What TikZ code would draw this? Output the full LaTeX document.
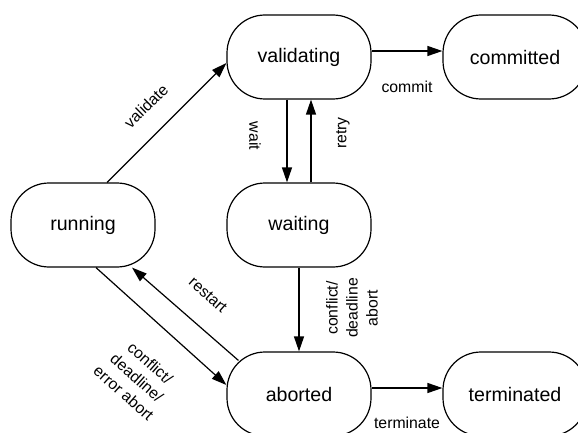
\documentclass[tikz,border=0pt]{standalone}
\usepackage{fontspec}
\setmainfont{Liberation Sans}
\usetikzlibrary{arrows.meta,calc}

\tikzset{
  state/.style={draw, line width=0.6pt, rounded corners=19pt, minimum width=72pt,
    minimum height=42pt, inner sep=0pt, font=\fontsize{9.8}{12}\selectfont},
  trans/.style={-{Triangle[length=7.5pt,width=5pt]}, line width=0.6pt},
  lbl/.style={font=\fontsize{7.9}{10}\selectfont, align=center, inner sep=0pt}
}

\begin{document}
\begin{tikzpicture}[x=0.5pt,y=-0.5pt]
	\useasboundingbox (0,0) rectangle (578,433);
	%states
	\node[state] (running) at (83,225) {running};
	\node[state] (validating) at (299,57) {validating};
	\node[state] (waiting) at (299,225) {waiting};
	\node[state] (aborted) at (299,394) {aborted};
	\node[state] (committed) at (515,57) {committed};
	\node[state] (terminated) at (515,394) {terminated};
	%transitions
	\draw[trans] ($(running.north)+(24,0)$) -- ($(validating.west)+(0,6)$);
	\draw[trans] ($(validating.south)+(-12,0)$) -- ($(waiting.north)+(-12,0)$);
	\draw[trans] ($(waiting.north)+(12,0)$) -- ($(validating.south)+(12,0)$);
	\draw[trans] ($(validating.east)+(0,-6)$) -- ($(committed.west)+(0,-6)$);
	\draw[trans] ($(running.south)+(13,0)$) -- ($(aborted.west)+(0,-9)$);
	\draw[trans] ($(aborted.north west)+(12,9)$) -- ($(running.south)+(49,0)$);
	\draw[trans] (waiting.south) -- (aborted.north);
	\draw[trans] ($(aborted.east)+(0,-6)$) -- ($(terminated.west)+(0,-6)$);
	%labels
	\node[lbl, rotate=44.5] (lvalidate) at (146,106) {validate};
	\node[lbl, rotate=-90] (lwait) at (255,136) {wait};
	\node[lbl, rotate=90] (lretry) at (343,133) {retry};
	\node[lbl] (lcommit) at (407,87) {commit};
	\node[lbl, rotate=-41.5] (lrestart) at (208,295) {restart};
	\node[lbl, rotate=-41.5] (lerror) at (137,378) {conflict/\\deadline/\\error abort};
	\node[lbl, rotate=90] (lconflict) at (352,308) {conflict/\\deadline\\abort};
	\node[lbl] (lterminate) at (407,423) {terminate};
\end{tikzpicture}
\end{document}
